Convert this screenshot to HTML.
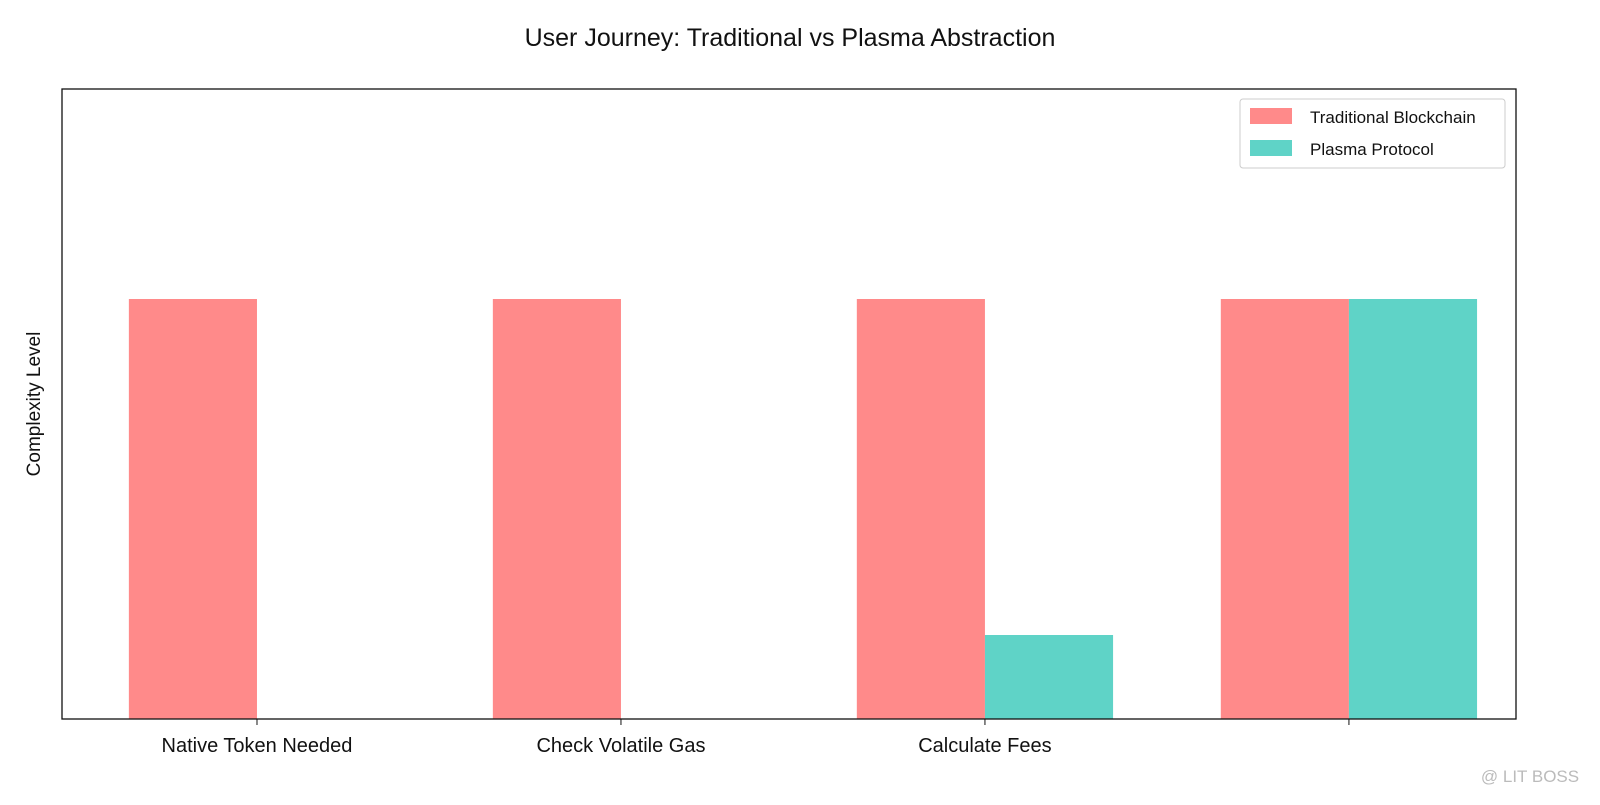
<!DOCTYPE html>
<html><head><meta charset="utf-8"><style>
body{margin:0;background:#fff;font-family:"Liberation Sans",sans-serif;}
</style></head><body>
<svg width="1600" height="800" xmlns="http://www.w3.org/2000/svg" font-family="Liberation Sans, sans-serif">
<rect width="1600" height="800" fill="#fff"/>
<text x="790" y="46" text-anchor="middle" font-size="25" fill="#111">User Journey: Traditional vs Plasma Abstraction</text>
<text transform="translate(40,404) rotate(-90)" text-anchor="middle" font-size="19" fill="#111">Complexity Level</text>
<g id="bars"></g>
<g id="xt"></g>
<rect x="62" y="89" width="1454" height="630" fill="none" stroke="#111" stroke-width="1.3"/>
<g>
<rect x="1240" y="99" width="265" height="69" fill="#fff" stroke="#ccc" rx="3"/>
<rect x="1250" y="108" width="42" height="16" fill="#ff8a8a"/>
<text x="1310" y="123" font-size="17" fill="#111">Traditional Blockchain</text>
<rect x="1250" y="140" width="42" height="16" fill="#5fd3c7"/>
<text x="1310" y="155" font-size="17" fill="#111">Plasma Protocol</text>
</g>
<text x="1530" y="782" text-anchor="middle" font-size="17" fill="#bbb">@ LIT BOSS</text>
</svg>
<script>
const categories=["Native Token Needed","Check Volatile Gas","Calculate Fees",""];
const traditional=[1,1,1,1];
const plasma=[0,0,0.2,1];
const yMax=1.5, xMin=-0.5357, xMax=3.459;
const L=62,R=1516,T=89,B=719;
const xs=v=>L+(v-xMin)/(xMax-xMin)*(R-L);
const ys=v=>B-v/yMax*(B-T);
const bw=0.3516*(R-L)/(xMax-xMin)/1;
const NS="http://www.w3.org/2000/svg";
const bars=document.getElementById('bars'),xt=document.getElementById('xt');
const bwPx=(xs(1)-xs(0))*0.352;
categories.forEach((c,i)=>{
 const cx=xs(i);
 [[traditional[i],cx-bwPx,'#ff8a8a','traditional'],[plasma[i],cx,'#5fd3c7','plasma']].forEach(([v,x,col,n])=>{
  const r=document.createElementNS(NS,'rect');
  r.setAttribute('x',x);r.setAttribute('width',bwPx);
  r.setAttribute('y',ys(v));r.setAttribute('height',B-ys(v));r.setAttribute('fill',col);
  
  
  bars.appendChild(r);
 });
 const t=document.createElementNS(NS,'line');
 t.setAttribute('x1',cx);t.setAttribute('x2',cx);t.setAttribute('y1',B);t.setAttribute('y2',B+6);t.setAttribute('stroke','#111');
 
 
 xt.appendChild(t);
 const l=document.createElementNS(NS,'text');
 l.setAttribute('x',cx);l.setAttribute('y',752);l.setAttribute('text-anchor','middle');l.setAttribute('font-size','20');l.setAttribute('fill','#111');
 l.textContent=c;
 
 
 xt.appendChild(l);
});
</script>
</body></html>
